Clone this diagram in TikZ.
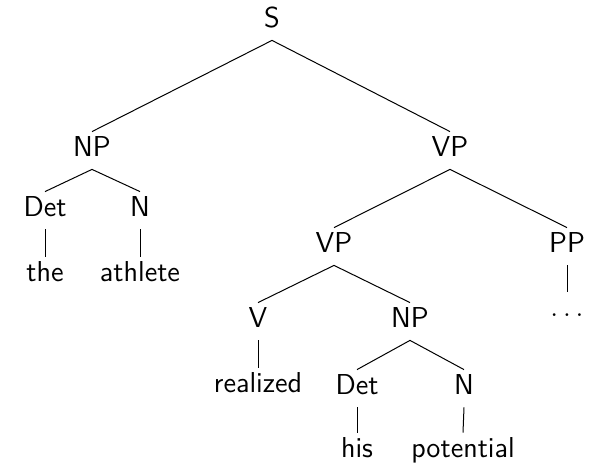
\documentclass[tikz,border=0pt]{standalone}
\usepackage{fontspec}
\begin{document}
\begin{tikzpicture}[x=0.5pt, y=-0.5pt,
  every node/.style={font=\sffamily\fontsize{14.4}{17}\selectfont},
  cat/.style={anchor=base, inner sep=2.5pt, text height=10pt, text depth=3.5pt},
  edge/.style={line width=0.5pt}]
\useasboundingbox (0,0) rectangle (590,464);
% categories and words, placed by their baselines
\node[cat] (s)    at (272,28)  {S};
\node[cat] (np1)  at (92,157)  {NP};
\node[cat] (vp1)  at (450,157) {VP};
\node[cat] (det1) at (45,217)  {Det};
\node[cat] (n1)   at (140,217) {N};
\node[cat] (the)  at (45,282)  {the};
\node[cat] (ath)  at (140,282) {athlete};
\node[cat] (vp2)  at (334,253) {VP};
\node[cat] (pp)   at (567,253) {PP};
\node[cat] (v)    at (258,328) {V};
\node[cat] (np2)  at (410,328) {NP};
\node[cat] (real) at (258,393) {realized};
\node[cat] (dots) at (567,317) {$\ldots$};
\node[cat] (det2) at (357,395) {Det};
\node[cat] (n2)   at (464,395) {N};
\node[cat] (his)  at (357,458) {his};
\node[cat] (pot)  at (463,458) {potential};
% branches
\draw[edge] (s.south) -- (np1.north);
\draw[edge] (s.south) -- (vp1.north);
\draw[edge] (np1.south) -- (det1.north);
\draw[edge] (np1.south) -- (n1.north);
\draw[edge] (det1.south) -- (the.north);
\draw[edge] (n1.south) -- (ath.north);
\draw[edge] (vp1.south) -- (vp2.north);
\draw[edge] (vp1.south) -- (pp.north);
\draw[edge] (pp.south) -- (dots.north);
\draw[edge] (vp2.south) -- (v.north);
\draw[edge] (vp2.south) -- (np2.north);
\draw[edge] (v.south) -- (real.north);
\draw[edge] (np2.south) -- (det2.north);
\draw[edge] (np2.south) -- (n2.north);
\draw[edge] (det2.south) -- (his.north);
\draw[edge] (n2.south) -- (pot.north);
\end{tikzpicture}
\end{document}
